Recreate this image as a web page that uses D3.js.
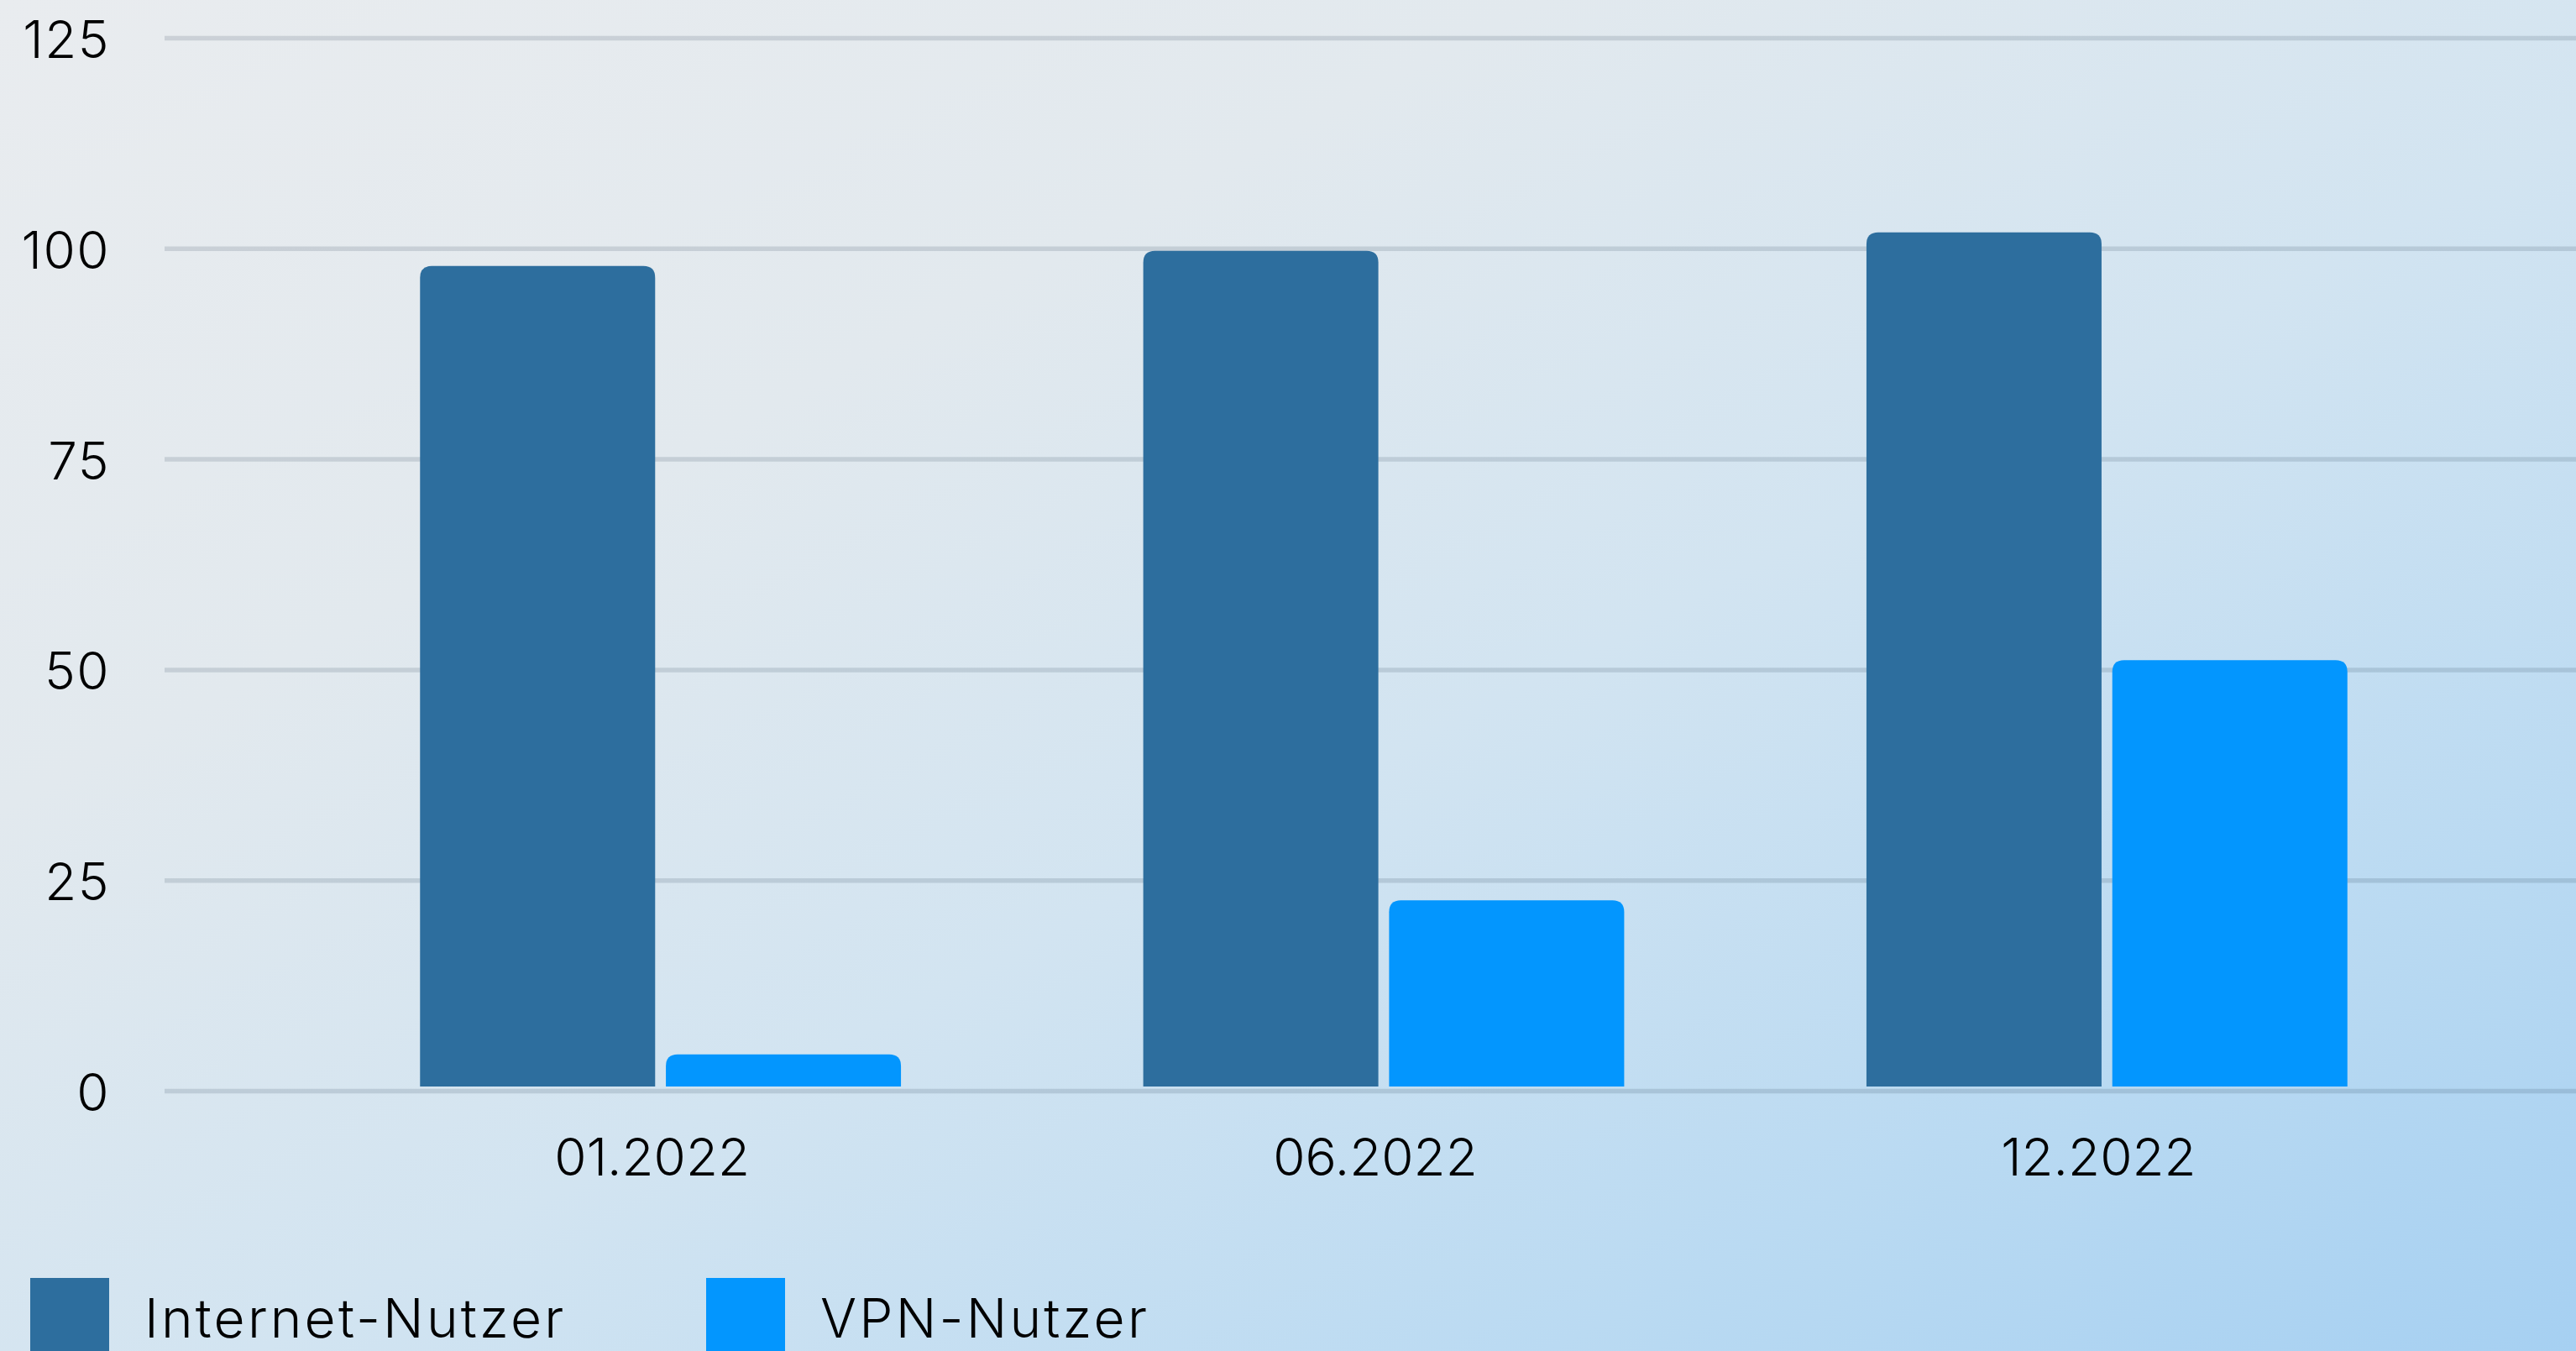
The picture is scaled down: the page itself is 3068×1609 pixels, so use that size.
<!DOCTYPE html>
<html>
<head>
<meta charset="utf-8">
<script src="https://cdn.jsdelivr.net/npm/d3@7"></script>
<style>
  html, body { margin: 0; padding: 0; overflow: hidden; }
  svg { display: block; }
  text { font-family: "Inter", "Open Sans", sans-serif; fill: #000; font-weight: 300; }
</style>
</head>
<body>
<script>
const categories = ["01.2022", "06.2022", "12.2022"];
const seriesNames = ["Internet-Nutzer", "VPN-Nutzer"];
const internetUsers = [97.9, 99.7, 101.9];
const vpnUsers = [4.3, 22.6, 51.1];
const yTicks = [0, 25, 50, 75, 100, 125];
const colors = ["#2d6e9e", "#0396fe"];

const W = 3068, H = 1609;
const svg = d3.select("body").append("svg").attr("width", W).attr("height", H);

const defs = svg.append("defs");
const grad = defs.append("linearGradient").attr("id", "bg")
  .attr("x1", 0).attr("y1", 0).attr("x2", 1).attr("y2", 1);
grad.append("stop").attr("offset", "0%").attr("stop-color", "#e9ecef");
grad.append("stop").attr("offset", "30%").attr("stop-color", "#e2e9ee");
grad.append("stop").attr("offset", "55%").attr("stop-color", "#d2e4f1");
grad.append("stop").attr("offset", "80%").attr("stop-color", "#badaf2");
grad.append("stop").attr("offset", "100%").attr("stop-color", "#a6d0f2");
svg.append("rect").attr("width", W).attr("height", H).attr("fill", "url(#bg)");

const y = d3.scaleLinear().domain([0, 125]).range([1299, 45]);
const x0 = d3.scaleBand().domain(categories).range([356, 2940])
  .paddingInner(0.335).paddingOuter(0.1675);
const x1 = d3.scaleBand().domain(seriesNames).range([0, x0.bandwidth()])
  .paddingInner(0.0437);

// gridlines
const grid = svg.append("g")
  .attr("transform", "translate(196,0)")
  .call(d3.axisLeft(y).tickValues(yTicks).tickSize(-(W - 196)).tickFormat(""));
grid.select(".domain").remove();
grid.selectAll(".tick line").attr("stroke", "rgba(10,30,55,0.13)").attr("stroke-width", 5.5);

// y labels
const yAxis = svg.append("g").attr("transform", "translate(131,0)")
  .call(d3.axisLeft(y).tickValues(yTicks).tickSize(0).tickPadding(0).tickFormat(d3.format("d")));
yAxis.select(".domain").remove();
yAxis.selectAll("text").attr("font-size", 62).attr("font-family", "Inter, 'Open Sans', sans-serif")
  .attr("font-weight", 300).attr("letter-spacing", 1.5)
  .attr("fill", "#000").attr("dy", "0.38em").attr("text-anchor", "end");

// bars
const data = categories.map((c, i) => ({ cat: c, values: [internetUsers[i], vpnUsers[i]] }));
const r = 14;
function barPath(xl, w, yt, yb) {
  const rr = Math.min(r, (yb - yt));
  return `M${xl},${yb} L${xl},${yt + rr} Q${xl},${yt} ${xl + rr},${yt} L${xl + w - rr},${yt} Q${xl + w},${yt} ${xl + w},${yt + rr} L${xl + w},${yb} Z`;
}
const groups = svg.append("g").selectAll("g").data(data).join("g")
  .attr("transform", d => `translate(${x0(d.cat)},0)`);
groups.selectAll("path").data(d => d.values.map((v, j) => ({ s: seriesNames[j], v, j })))
  .join("path")
  .attr("d", d => barPath(x1(d.s), x1.bandwidth(), y(d.v), y(0) - 5))
  .attr("fill", d => colors[d.j]);

// x labels
const xAxis = svg.append("g").attr("transform", `translate(0,${y(0)})`)
  .call(d3.axisBottom(x0).tickSize(0).tickPadding(0));
xAxis.select(".domain").remove();
xAxis.selectAll("text").attr("font-size", 62).attr("font-family", "Inter, 'Open Sans', sans-serif")
  .attr("font-weight", 300)
  .attr("fill", "#000").attr("dy", 0).attr("y", 101).attr("dx", -10);

// legend
const legendX = [36, 841];
const legend = svg.append("g").selectAll("g").data(seriesNames).join("g")
  .attr("transform", (d, i) => `translate(${legendX[i]},1522)`);
legend.append("rect").attr("width", 94).attr("height", 94).attr("fill", (d, i) => colors[i]);
legend.append("text").attr("x", 136).attr("y", 71).attr("font-size", 64)
  .attr("letter-spacing", 3.2).text(d => d);
</script>
</body>
</html>
